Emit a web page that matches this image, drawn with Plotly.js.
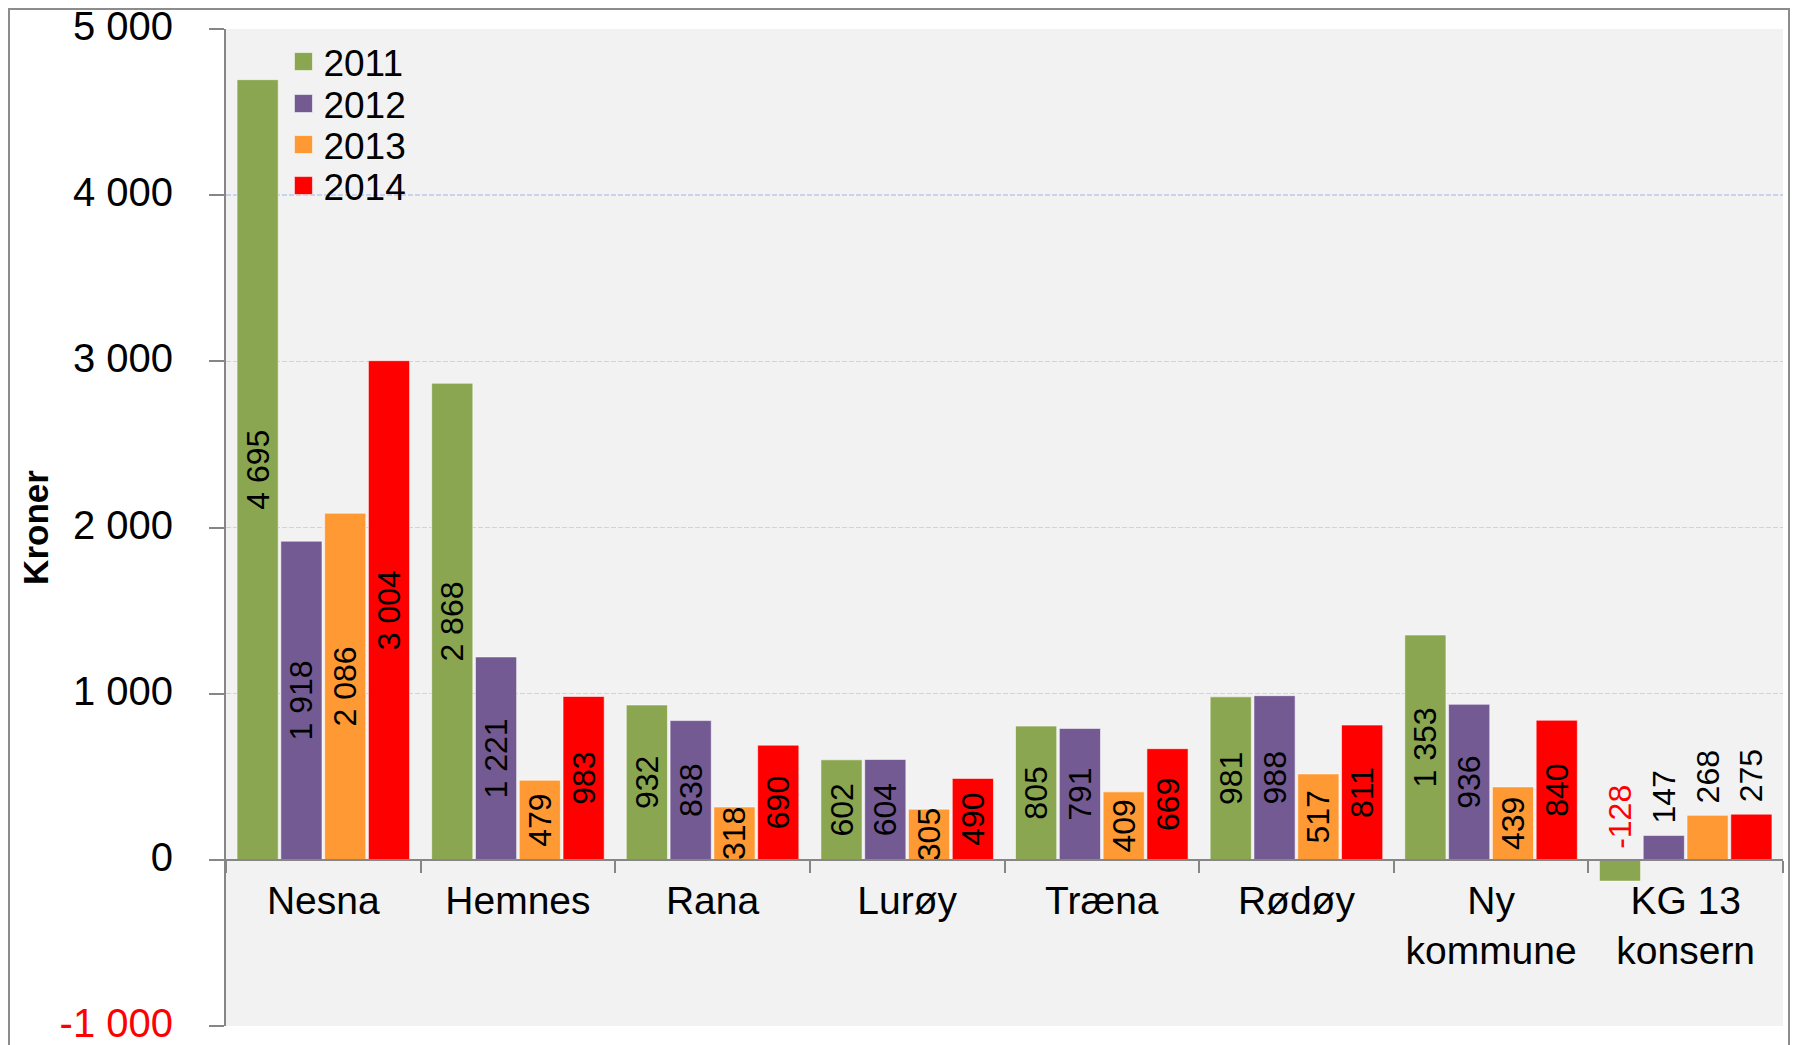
<!DOCTYPE html>
<html><head><meta charset="utf-8">
<script src="https://cdn.plot.ly/plotly-3.0.1.min.js"></script>
<style>
html,body{margin:0;padding:0;background:#fff;overflow:hidden}
#chart{width:1794px;height:1045px}
#frame{position:absolute;left:8px;top:8px;width:1778px;height:1100px;border:2px solid #8c8c8c;pointer-events:none}
</style></head><body>
<div id="chart"></div><div id="frame"></div>
<script>
const categories = ['Nesna','Hemnes','Rana','Lurøy','Træna','Rødøy','Ny<br>kommune','KG 13<br>konsern'];
const years = ['2011','2012','2013','2014'];
const v2011 = [4695,2868,932,602,805,981,1353,-128];
const v2012 = [1918,1221,838,604,791,988,936,147];
const v2013 = [2086,479,318,305,409,517,439,268];
const v2014 = [3004,983,690,490,669,811,840,275];
const yTickVals = [-1000,0,1000,2000,3000,4000,5000];
const yTickText = ['<span style="color:#ff0000">-1 000</span>','0','1 000','2 000','3 000','4 000','5 000'];

const colors = ['#8ba650','#735a92','#ff9933','#ff0000'];
const series = [v2011,v2012,v2013,v2014];
const FONT = 'Liberation Sans, Arial, sans-serif';

const W = 1794, H = 1045;
const margin = {l:226, r:11, t:29, b:19};
const bargap = 0.1;
const catW = (W - margin.l - margin.r) / categories.length;
const slotW = catW * (1 - bargap) / years.length;
const plotH = H - margin.t - margin.b;

function fmt(v){ return String(v).replace(/\B(?=(\d{3})+(?!\d))/g,' '); }

// legend entry centres (px from top of figure)
const legendY = [62, 104, 145, 186];
const legendNames = ['legend','legend2','legend3','legend4'];

const last = categories.length - 1;
const traces = series.map((vals,i)=>({
  type:'bar', name:years[i], x:categories, y:vals, legend:legendNames[i],
  marker:{color:colors[i], line:{width:1, color:'rgba(255,255,255,0.55)'}},
  texttemplate: vals.map((v,j)=> j===last ? '\u00a0%{y:,}' : '%{y:,}'),
  textposition: vals.map((v,j)=> j===last ? (v<0 ? 'none' : 'outside') : 'inside'),
  insidetextanchor:'middle',
  textangle:-90,
  constraintext:'none',
  cliponaxis:false,
  textfont:{family:FONT, size:32, color:'#000'},
  hoverinfo:'skip'
}));

// negative value label drawn above the zero line (as in the original)
const annotations = [];
series.forEach((vals,i)=>{
  vals.forEach((v,j)=>{
    if(v<0){
      annotations.push({
        x:categories[j], y:0, xref:'x', yref:'y',
        text:fmt(v), showarrow:false, textangle:-90,
        xanchor:'center', yanchor:'bottom', yshift:9,
        xshift:(i-(years.length-1)/2)*slotW,
        font:{family:FONT, size:32, color:'#ff0000'}
      });
    }
  });
});

const layout = {
  width:W, height:H, margin:margin,
  paper_bgcolor:'#ffffff', plot_bgcolor:'#f2f2f2',
  barmode:'group', bargap:bargap, bargroupgap:0.06,
  separators:', ',
  showlegend:true,
  xaxis:{
    type:'category', anchor:'free', position:1/6,
    showgrid:false, showline:true, linecolor:'#868686', linewidth:2,
    ticks:'outside', tickson:'boundaries', ticklen:12, tickcolor:'#868686', tickwidth:2,
    tickfont:{family:FONT, size:39, color:'#000'},
    ticklabelstandoff:6, fixedrange:true
  },
  yaxis:{
    range:[-1000,5000], tickvals:yTickVals, ticktext:yTickText,
    showline:true, linecolor:'#868686', linewidth:2,
    ticks:'outside', ticklen:15, tickcolor:'#868686', tickwidth:2,
    showgrid:true, gridcolor:'#c6d4ef', griddash:'5px,2px', gridwidth:1.5,
    zeroline:false,
    tickfont:{family:FONT, size:40, color:'#000'},
    ticklabelstandoff:28, ticklabeloverflow:'allow', ticklabelshift:-3,
    title:{text:'Kroner', font:{family:FONT, size:35, color:'#000', weight:'bold'}, standoff:0},
    fixedrange:true
  },
  annotations:annotations
};
legendNames.forEach((ln,i)=>{
  layout[ln] = {x:0.0369, y:1-(legendY[i]-margin.t)/plotH, xanchor:'left', yanchor:'middle',
    bgcolor:'rgba(0,0,0,0)', font:{family:FONT, size:37, color:'#000'}};
});

Plotly.newPlot('chart', traces, layout, {displayModeBar:false, staticPlot:true}).then(gd=>{
  // larger legend swatches, as in the original
  gd.querySelectorAll('.legendpoints path').forEach(p=>p.setAttribute('d','M9,9H-9V-9H9Z'));
});
</script>
</body></html>
